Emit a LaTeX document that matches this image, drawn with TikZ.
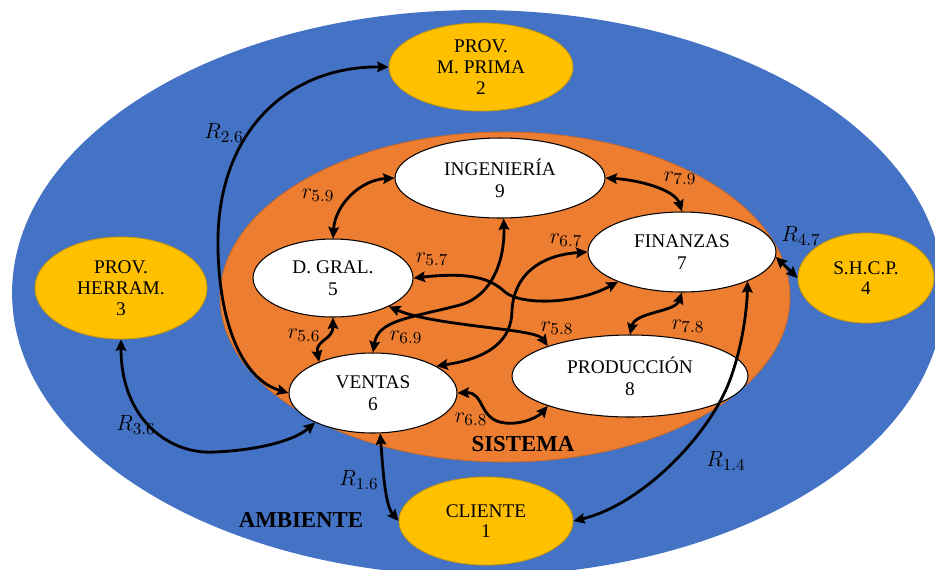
\documentclass[tikz,border=0pt]{standalone}
\usepackage{fix-cm}
\usepackage{fontspec}
\setmainfont{Liberation Serif}
\usetikzlibrary{arrows.meta,shapes.geometric}
\DeclareMathSizes{12.5}{12.5}{9.5}{7}
\definecolor{ambblue}{HTML}{4472C4}
\definecolor{sysorange}{HTML}{ED7D31}
\definecolor{extgold}{HTML}{FFC000}
\begin{document}
\begin{tikzpicture}[x=0.02cm,y=-0.02cm,
  envnode/.style={ellipse,fill=extgold,draw=extgold!80!black,line width=0.5pt,
    inner sep=0pt,align=center,font=\fontsize{11}{11.8}\selectfont},
  sysnode/.style={ellipse,fill=white,draw=black,line width=0.6pt,
    inner sep=0pt,align=center,font=\fontsize{11}{12.5}\selectfont},
  rel/.style={line width=1.6pt,{Stealth[length=6.5pt,width=6pt,inset=1pt]}-{Stealth[length=6.5pt,width=6pt,inset=1pt]}},
  lab/.style={inner sep=0pt,font=\fontsize{12.5}{13}\selectfont},
  title/.style={inner sep=0pt,font=\fontsize{13}{14}\selectfont\bfseries}]
\useasboundingbox (0,0) rectangle (935,569);

% environment and system regions
\begin{scope}
  \clip (0,0) rectangle (935,569);
  \fill[ambblue] (478,293) ellipse [x radius=9.32cm, y radius=5.66cm];
  \draw[fill=sysorange,draw=sysorange!85!black,line width=0.5pt] (505,297) ellipse [x radius=5.7cm, y radius=3.3cm];
\end{scope}

% environment elements
\node[envnode,minimum width=3.68cm,minimum height=1.76cm] (prov2) at (481,67) {PROV.\\M. PRIMA\\2};
\node[envnode,minimum width=3.44cm,minimum height=2.04cm] (herr) at (121,288) {PROV.\\HERRAM.\\3};
\node[envnode,minimum width=2.72cm,minimum height=1.8cm] (shcp) at (866,278) {S.H.C.P.\\4};
\node[envnode,minimum width=3.48cm,minimum height=1.76cm] (cli) at (486,521) {CLIENTE\\1};

% system elements
\node[sysnode,minimum width=4.2cm,minimum height=1.6cm] (ing) at (500,178) {INGENIERÍA\\9};
\node[sysnode,minimum width=3.76cm,minimum height=1.6cm] (fin) at (682,252) {FINANZAS\\7};
\node[sysnode,minimum width=3.2cm,minimum height=1.56cm] (dg) at (333,278) {D. GRAL.\\5};
\node[sysnode,minimum width=3.36cm,minimum height=1.6cm] (ven) at (373,393) {VENTAS\\6};
\node[sysnode,minimum width=4.72cm,minimum height=1.64cm] (prod) at (630,376) {PRODUCCIÓN\\8};

\node[title] (amb) at (301,520) {AMBIENTE};
\node[title] (sis) at (523,444) {SISTEMA};

% relations with the environment
\draw[rel] (prov2.west) .. controls (290,66) and (215,130) .. (218,250)
  .. controls (220,330) and (245,380) .. (ven.west);
\draw[rel] (herr.south) .. controls (121,420) and (170,455) .. (215,452)
  .. controls (260,450) and (295,440) .. (ven.207);
\draw[rel] (ven.-80) .. controls (383,470) and (385,505) .. (cli.west);
\draw[rel] (cli.east) .. controls (640,505) and (705,440) .. (728,385)
  .. controls (742,350) and (747,310) .. (fin.-24);
\draw[rel] (fin.-3) -- (shcp.west);

% relations inside the system
\draw[rel] (ing.west) .. controls (360,180) and (335,205) .. (dg.north);
\draw[rel] (ing.east) .. controls (640,180) and (675,190) .. (fin.north);
\draw[rel] (ven.23) .. controls (490,358) and (512,340) .. (512,310)
  .. controls (514,275) and (540,255) .. (fin.west);
\draw[rel] (dg.east) .. controls (470,272) and (490,278) .. (505,292)
  .. controls (520,305) and (575,305) .. (fin.205);
\draw[rel] (ing.-85) .. controls (505,255) and (495,295) .. (460,305)
  .. controls (410,318) and (378,320) .. (ven.north);
\draw[rel] (dg.-27) .. controls (420,320) and (470,325) .. (500,329)
  .. controls (525,332) and (540,335) .. (prod.160);
\draw[rel] (dg.south) .. controls (333,340) and (315,340) .. (ven.150);
\draw[rel] (fin.south) .. controls (675,312) and (635,312) .. (prod.north);
\draw[rel] (ven.east) .. controls (485,392) and (478,420) .. (505,423)
  .. controls (525,425) and (540,415) .. (prod.200);

% relation labels
\node[lab] (l26) at (224,133) {$R_{2.6}$};
\node[lab] (l36) at (136,425) {$R_{3.6}$};
\node[lab] (l16) at (359,480) {$R_{1.6}$};
\node[lab] (l14) at (726,461) {$R_{1.4}$};
\node[lab] (l47) at (801,236) {$R_{4.7}$};
\node[lab] (l59) at (318,195) {$r_{5.9}$};
\node[lab] (l79) at (680,178) {$r_{7.9}$};
\node[lab] (l67) at (566,240) {$r_{6.7}$};
\node[lab] (l57) at (432,259) {$r_{5.7}$};
\node[lab] (l69) at (406,337) {$r_{6.9}$};
\node[lab] (l58) at (557,328) {$r_{5.8}$};
\node[lab] (l56) at (304,335) {$r_{5.6}$};
\node[lab] (l78) at (688,326) {$r_{7.8}$};
\node[lab] (l68) at (471,419) {$r_{6.8}$};
\end{tikzpicture}
\end{document}
